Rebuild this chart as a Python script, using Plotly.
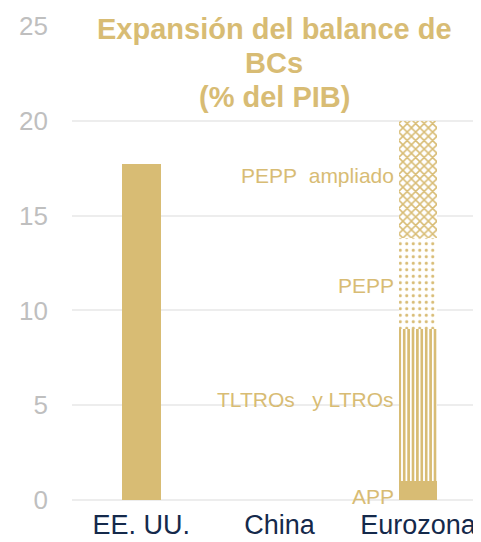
import plotly.graph_objects as go

categories = ["EE. UU.", "China", "Eurozona"]
usa_total = [17.7, None, None]
app = [None, None, 1.0]
tltro = [None, None, 8.0]
pepp = [None, None, 4.8]
pepp_ampliado = [None, None, 6.2]
segment_labels = ["PEPP\u00a0\u00a0ampliado", "PEPP", "TLTROs\u00a0\u00a0 y LTROs", "APP"]
label_values = [17.1, 11.3, 5.3, 0.2]
title_lines = ["Expansión del balance de", "BCs", "(% del PIB)"]
y_ticks = [0, 5, 10, 15, 20, 25]

GOLD = "#D8BC74"
NAVY = "#14294B"
FONT = "Liberation Sans, Arial, sans-serif"
W = 0.28

fig = go.Figure()
fig.add_trace(go.Bar(x=categories, y=usa_total, width=W, marker=dict(color=GOLD, line=dict(width=0))))
fig.add_trace(go.Bar(x=categories, y=app, width=W, marker=dict(color=GOLD, line=dict(width=0))))
fig.add_trace(go.Bar(x=categories, y=tltro, width=W,
                     marker=dict(color=GOLD, line=dict(width=0),
                                 pattern=dict(shape="|", fgcolor=GOLD, fgopacity=1, bgcolor="white",
                                              size=4.4, solidity=0.6))))
fig.add_trace(go.Bar(x=categories, y=pepp, width=W,
                     marker=dict(color=GOLD, line=dict(width=0),
                                 pattern=dict(shape=".", fgcolor=GOLD, fgopacity=1, bgcolor="white",
                                              size=6.5, solidity=0.18))))
fig.add_trace(go.Bar(x=categories, y=pepp_ampliado, width=W,
                     marker=dict(color=GOLD, line=dict(width=0),
                                 pattern=dict(shape="x", fgcolor=GOLD, fgopacity=1, bgcolor="white",
                                              size=6, solidity=0.45))))

annotations = []
for txt, yv in zip(segment_labels, label_values):
    annotations.append(dict(x=categories[2], y=yv, xref="x", yref="y", text=txt, showarrow=False,
                            xanchor="right", yanchor="middle", xshift=-22,
                            font=dict(family=FONT, size=21, color=GOLD)))
for txt, yp in zip(title_lines, [0.994, 0.922, 0.850]):
    annotations.append(dict(x=0.494, y=yp, xref="paper", yref="paper",
                            text="<b>" + txt + "</b>",
                            showarrow=False, xanchor="center", yanchor="middle",
                            font=dict(family=FONT, size=29, color=GOLD)))

# the page body has an 8px margin, so the figure is sized/offset to compensate
fig.update_layout(
    width=473, height=534,
    margin=dict(l=64, r=0, t=18, b=42, autoexpand=False),
    paper_bgcolor="white", plot_bgcolor="white",
    barmode="stack", showlegend=False,
    font=dict(family=FONT),
    annotations=annotations,
    xaxis=dict(range=[-0.5, 2.455], showgrid=False, showline=False, ticks="",
               ticklabelstandoff=6,
               tickfont=dict(family=FONT, size=27, color=NAVY)),
    yaxis=dict(range=[0, 25], tickvals=y_ticks, showgrid=True, gridcolor="#EDEDED", gridwidth=1.5,
               zeroline=True, zerolinecolor="#EDEDED", zerolinewidth=1.5,
               showline=False, ticks="", ticklabelstandoff=23,
               tickfont=dict(family=FONT, size=26, color="#BFBFBF")),
)

fig.write_html("out.html")
